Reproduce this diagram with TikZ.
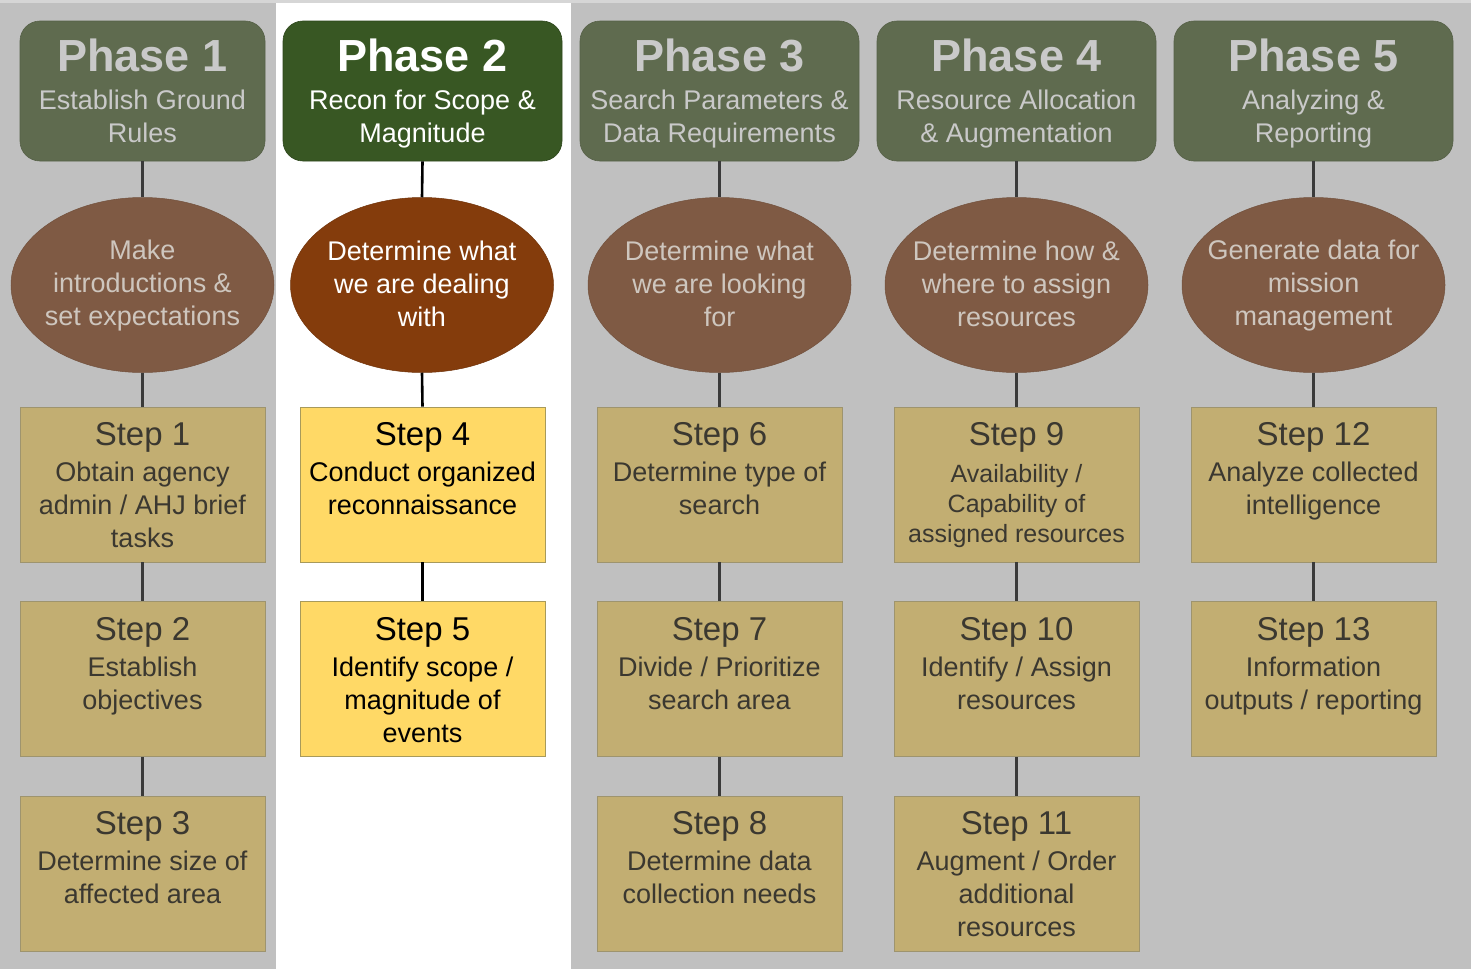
\documentclass[tikz,border=0pt]{standalone}
\usepackage{fontspec}
\setmainfont{Liberation Sans}
\usetikzlibrary{shapes.geometric}
\definecolor{bggray}{HTML}{C0C0C0}
\definecolor{bgtop}{HTML}{D6D6D6}
\definecolor{phasedim}{HTML}{5F6B4F}
\definecolor{phaseact}{HTML}{385723}
\definecolor{phasetxtdim}{HTML}{C9C9C9}
\definecolor{elldim}{HTML}{7F5A44}
\definecolor{ellact}{HTML}{843C0C}
\definecolor{elltxtdim}{HTML}{CEC6BE}
\definecolor{stepdim}{HTML}{C2AE72}
\definecolor{stepdimborder}{HTML}{9E946E}
\definecolor{stepact}{HTML}{FFD966}
\definecolor{stepactborder}{HTML}{A89A5A}
\definecolor{steptxtdim}{HTML}{3B3830}
\definecolor{linedim}{HTML}{3A3A3A}
\tikzset{
  phasebox/.style={rectangle, rounded corners=20pt, inner sep=0pt, minimum height=140pt, minimum width=279pt, fill=phasedim, draw=phasedim!90!black, line width=0.6pt},
  phaseactbox/.style={phasebox, fill=phaseact, draw=phaseact!80!black},
  phasetext/.style={inner sep=0pt, align=center, anchor=north, text=phasetxtdim, font=\fontsize{27}{33}\selectfont},
  ellbox/.style={ellipse, inner sep=0pt, minimum width=263pt, minimum height=175pt, fill=elldim, draw=elldim!90!black, line width=0.5pt},
  ellactbox/.style={ellbox, fill=ellact, draw=ellact!85!black},
  elltext/.style={inner sep=0pt, align=center, text=elltxtdim, font=\fontsize{27}{33}\selectfont},
  stepbox/.style={rectangle, inner sep=0pt, minimum width=245pt, minimum height=155pt, fill=stepdim, draw=stepdimborder, line width=0.8pt},
  stepactbox/.style={stepbox, fill=stepact, draw=stepactborder},
  steptext/.style={inner sep=0pt, align=center, anchor=north, text=steptxtdim, font=\fontsize{27}{33}\selectfont},
  conn/.style={draw=linedim, line width=2.6pt},
  connact/.style={draw=black, line width=2.6pt}
}
\newcommand{\phasetitle}[1]{{\fontsize{45}{45}\selectfont\bfseries #1}\\[5pt]}
\newcommand{\steptitle}[1]{{\fontsize{33}{33}\selectfont #1}\\[3pt]}
\newcommand{\steptitlesmall}[1]{{\fontsize{33}{33}\selectfont #1}\\[7pt]}
\begin{document}
\begin{tikzpicture}[x=1pt,y=-1pt]
\useasboundingbox (0,0) rectangle (1471,969);
% background
\fill[bggray] (0,0) rectangle (1471,969);
\fill[bgtop] (0,0) rectangle (1471,3);
\fill[white] (276,3) rectangle (571,969);

% ---------- Phase boxes ----------
\node[phasebox, minimum width=245pt] (p1) at (142.5,91) {};
\node[phaseactbox] (p2) at (422.5,91) {};
\node[phasebox] (p3) at (719.5,91) {};
\node[phasebox] (p4) at (1016.5,91) {};
\node[phasebox] (p5) at (1313.5,91) {};

\node[phasetext] (p1t) at (142.5,39) {\phasetitle{Phase 1}Establish Ground\\Rules};
\node[phasetext, text=white] (p2t) at (422.5,39) {\phasetitle{Phase 2}Recon for Scope \&\\Magnitude};
\node[phasetext] (p3t) at (719.5,39) {\phasetitle{Phase 3}Search Parameters \&\\Data Requirements};
\node[phasetext] (p4t) at (1016.5,39) {\phasetitle{Phase 4}Resource Allocation\\\& Augmentation};
\node[phasetext] (p5t) at (1313.5,39) {\phasetitle{Phase 5}Analyzing \&\\Reporting};

% ---------- Ellipses ----------
\node[ellbox] (e1) at (142.5,285) {};
\node[ellactbox] (e2) at (422,285) {};
\node[ellbox] (e3) at (719.5,285) {};
\node[ellbox] (e4) at (1016.5,285) {};
\node[ellbox] (e5) at (1313.5,285) {};

\node[elltext] (e1t) at (142.5,286) {Make\\introductions \&\\set expectations};
\node[elltext, text=white] (e2t) at (422,284) {Determine what\\we are dealing\\with};
\node[elltext] (e3t) at (719.5,284) {Determine what\\we are looking\\for};
\node[elltext] (e4t) at (1016.5,284) {Determine how \&\\where to assign\\resources};
\node[elltext] (e5t) at (1313.5,286) {Generate data for\\mission\\management};

% ---------- Step boxes ----------
\node[stepbox] (s1) at (142.5,484.5) {};
\node[stepbox] (s2) at (142.5,679) {};
\node[stepbox] (s3) at (142.5,873.5) {};
\node[stepactbox] (s4) at (422.5,484.5) {};
\node[stepactbox] (s5) at (422.5,679) {};
\node[stepbox] (s6) at (719.5,484.5) {};
\node[stepbox] (s7) at (719.5,679) {};
\node[stepbox] (s8) at (719.5,873.5) {};
\node[stepbox] (s9) at (1016.5,484.5) {};
\node[stepbox] (s10) at (1016.5,679) {};
\node[stepbox] (s11) at (1016.5,873.5) {};
\node[stepbox] (s12) at (1313.5,484.5) {};
\node[stepbox] (s13) at (1313.5,679) {};

\node[steptext] (s1t) at ([yshift=-16pt]s1.north) {\steptitle{Step 1}Obtain agency\\admin / AHJ brief\\tasks};
\node[steptext] (s2t) at ([yshift=-16pt]s2.north) {\steptitle{Step 2}Establish\\objectives};
\node[steptext] (s3t) at ([yshift=-16pt]s3.north) {\steptitle{Step 3}Determine size of\\affected area};
\node[steptext, text=black] (s4t) at ([yshift=-16pt]s4.north) {\steptitle{Step 4}Conduct organized\\reconnaissance};
\node[steptext, text=black] (s5t) at ([yshift=-16pt]s5.north) {\steptitle{Step 5}Identify scope /\\magnitude of\\events};
\node[steptext] (s6t) at ([yshift=-16pt]s6.north) {\steptitle{Step 6}Determine type of\\search};
\node[steptext] (s7t) at ([yshift=-16pt]s7.north) {\steptitle{Step 7}Divide / Prioritize\\search area};
\node[steptext] (s8t) at ([yshift=-16pt]s8.north) {\steptitle{Step 8}Determine data\\collection needs};
\node[steptext, font=\fontsize{25}{30}\selectfont] (s9t) at ([yshift=-16pt]s9.north) {\steptitlesmall{Step 9}Availability /\\Capability of\\assigned resources};
\node[steptext] (s10t) at ([yshift=-16pt]s10.north) {\steptitle{Step 10}Identify / Assign\\resources};
\node[steptext] (s11t) at ([yshift=-16pt]s11.north) {\steptitle{Step 11}Augment / Order\\additional\\resources};
\node[steptext] (s12t) at ([yshift=-16pt]s12.north) {\steptitle{Step 12}Analyze collected\\intelligence};
\node[steptext] (s13t) at ([yshift=-16pt]s13.north) {\steptitle{Step 13}Information\\outputs / reporting};

% ---------- Connectors ----------
\draw[conn] (p1.south) -- (e1.north);
\draw[conn] (e1.south) -- (s1.north);
\draw[conn] (s1.south) -- (s2.north);
\draw[conn] (s2.south) -- (s3.north);

\draw[connact] (p2.south) -- (e2.north);
\draw[connact] (e2.south) -- (s4.north);
\draw[connact] (s4.south) -- (s5.north);

\draw[conn] (p3.south) -- (e3.north);
\draw[conn] (e3.south) -- (s6.north);
\draw[conn] (s6.south) -- (s7.north);
\draw[conn] (s7.south) -- (s8.north);

\draw[conn] (p4.south) -- (e4.north);
\draw[conn] (e4.south) -- (s9.north);
\draw[conn] (s9.south) -- (s10.north);
\draw[conn] (s10.south) -- (s11.north);

\draw[conn] (p5.south) -- (e5.north);
\draw[conn] (e5.south) -- (s12.north);
\draw[conn] (s12.south) -- (s13.north);
\end{tikzpicture}
\end{document}
